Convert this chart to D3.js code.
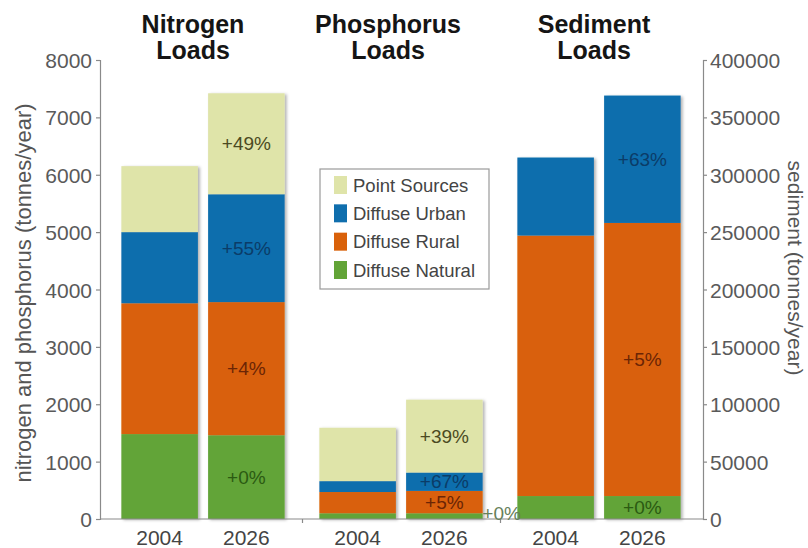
<!DOCTYPE html>
<html>
<head>
<meta charset="utf-8">
<script src="https://cdn.jsdelivr.net/npm/d3@7"></script>
<style>
  html, body { margin: 0; padding: 0; background: #fff; }
  svg { display: block; font-family: "Liberation Sans", Arial, Helvetica, sans-serif; }
</style>
</head>
<body>
<svg id="chart" width="808" height="548"></svg>
<script>
// Load groups and the two scenario years
const groups = ["Nitrogen", "Phosphorus", "Sediment"];
const titleLines = [["Nitrogen", "Loads"], ["Phosphorus", "Loads"], ["Sediment", "Loads"]];
const years = ["2004", "2026"];
const sources = ["Point Sources", "Diffuse Urban", "Diffuse Rural", "Diffuse Natural"];

// Loads per bar, ordered N2004, N2026, P2004, P2026, S2004, S2026
// (nitrogen & phosphorus in tonnes/year on the left axis, sediment on the right axis)
const pointSources   = [1150, 1760, 930, 1270, 0, 0];
const diffuseUrban   = [1240, 1880, 190, 320, 68000, 111000];
const diffuseRural   = [2280, 2320, 370, 390, 227000, 238000];
const diffuseNatural = [1480, 1460, 100, 100, 20000, 20000];

// Change from 2004 to 2026, per group
const pointChange   = ["+49%", "+39%", ""];
const urbanChange   = ["+55%", "+67%", "+63%"];
const ruralChange   = ["+4%", "+5%", "+5%"];
const naturalChange = ["+0%", "+0%", "+0%"];

const leftTicks  = [0, 1000, 2000, 3000, 4000, 5000, 6000, 7000, 8000];
const rightTicks = [0, 50000, 100000, 150000, 200000, 250000, 300000, 350000, 400000];

const colors = {
  "Point Sources": "#dfe4a9",
  "Diffuse Urban": "#0f6ead",
  "Diffuse Rural": "#d9610a",
  "Diffuse Natural": "#62a437"
};
const labelColors = {
  "Point Sources": "#4b4a22",
  "Diffuse Urban": "#0b3c68",
  "Diffuse Rural": "#6b2505",
  "Diffuse Natural": "#2b5a12"
};

const seriesBySource = {
  "Point Sources": pointSources,
  "Diffuse Urban": diffuseUrban,
  "Diffuse Rural": diffuseRural,
  "Diffuse Natural": diffuseNatural
};
const changeBySource = {
  "Point Sources": pointChange,
  "Diffuse Urban": urbanChange,
  "Diffuse Rural": ruralChange,
  "Diffuse Natural": naturalChange
};

// Build one row per bar
const rows = [];
groups.forEach((g, gi) => {
  years.forEach((yr, yi) => {
    const i = gi * 2 + yi;
    const r = { group: g, year: yr, gi: gi };
    sources.forEach(s => { r[s] = seriesBySource[s][i]; });
    rows.push(r);
  });
});

const stackOrder = ["Diffuse Natural", "Diffuse Rural", "Diffuse Urban", "Point Sources"];
const stacked = d3.stack().keys(stackOrder)(rows);

const svg = d3.select("#chart");
const font = "'Liberation Sans', Arial, Helvetica, sans-serif";

const yL = d3.scaleLinear().domain([0, 8000]).range([519, 60]);
const yR = d3.scaleLinear().domain([0, 400000]).range([519, 60]);
const yFor = g => (g === "Sediment" ? yR : yL);

const x0 = d3.scaleBand().domain(groups).range([104, 698]);
const x1 = d3.scaleBand().domain(years).range([0, x0.bandwidth()])
  .paddingInner(10 / 85).paddingOuter(0.2);

// Soft shadow under the bars
const defs = svg.append("defs");
const f = defs.append("filter").attr("id", "shadow")
  .attr("x", "-10%").attr("y", "-10%").attr("width", "130%").attr("height", "130%");
f.append("feDropShadow").attr("dx", 2).attr("dy", 1).attr("stdDeviation", 1.5)
  .attr("flood-color", "#000").attr("flood-opacity", 0.3);

// Stacked bars
const barG = svg.append("g").attr("filter", "url(#shadow)");
stacked.forEach(layer => {
  barG.append("g").attr("fill", colors[layer.key])
    .selectAll("rect").data(layer).join("rect")
    .attr("x", d => x0(d.data.group) + x1(d.data.year))
    .attr("width", x1.bandwidth())
    .attr("y", d => yFor(d.data.group)(d[1]))
    .attr("height", d => yFor(d.data.group)(d[0]) - yFor(d.data.group)(d[1]));
});

// Axes
const axisColor = "#8a8a8a";
const tickFont = 21;

const leftAxis = svg.append("g").attr("transform", "translate(100,0)")
  .call(d3.axisLeft(yL).tickValues(leftTicks).tickSize(4).tickPadding(4).tickFormat(d3.format("d")));
const rightAxis = svg.append("g").attr("transform", "translate(703,0)")
  .call(d3.axisRight(yR).tickValues(rightTicks).tickSize(4).tickPadding(3).tickFormat(d3.format("d")));
const bottomAxis = svg.append("g").attr("transform", "translate(0,519)")
  .call(d3.axisBottom(d3.scaleLinear().domain([100, 703]).range([100, 703]))
    .tickValues([x0("Phosphorus"), x0("Sediment")]).tickSize(4).tickFormat(""));

[leftAxis, rightAxis, bottomAxis].forEach(a => {
  a.select(".domain").attr("stroke", axisColor).attr("stroke-width", 1.2);
  a.selectAll(".tick line").attr("stroke", axisColor).attr("stroke-width", 1.2);
  a.selectAll(".tick text").attr("fill", "#5a5a5a").attr("font-size", tickFont)
    .attr("font-family", font).attr("dy", "0.36em");
});
bottomAxis.select(".domain").attr("d", "M100,0H703");

// Year labels under each bar
svg.append("g").selectAll("text").data(rows).join("text")
  .attr("x", d => x0(d.group) + x1(d.year) + x1.bandwidth() / 2)
  .attr("y", 545)
  .attr("text-anchor", "middle")
  .attr("font-size", tickFont).attr("fill", "#444").attr("font-family", font)
  .text(d => d.year);

// Group titles
const titleOffset = { "Nitrogen": -10, "Phosphorus": -13, "Sediment": -5 };
groups.forEach((g, gi) => {
  const tx = x0(g) + x0.bandwidth() / 2 + titleOffset[g];
  const t = svg.append("text")
    .attr("x", tx)
    .attr("text-anchor", "middle")
    .attr("font-size", 25).attr("font-weight", "bold").attr("fill", "#151515")
    .attr("font-family", font);
  t.append("tspan").attr("x", tx).attr("y", 33).text(titleLines[gi][0]);
  t.append("tspan").attr("x", tx).attr("y", 59).text(titleLines[gi][1]);
});

// Change labels on the 2026 bars
stacked.forEach(layer => {
  layer.forEach(d => {
    if (d.data.year !== "2026") return;
    const label = changeBySource[layer.key][d.data.gi];
    if (!label) return;
    const y = yFor(d.data.group);
    const cx = x0(d.data.group) + x1(d.data.year) + x1.bandwidth() / 2;
    const cy = (y(d[0]) + y(d[1])) / 2;
    // The phosphorus natural band is too thin, so its label sits beside the bar
    const outside = d.data.group === "Phosphorus" && layer.key === "Diffuse Natural";
    svg.append("text")
      .attr("x", outside ? x0(d.data.group) + x1(d.data.year) + x1.bandwidth() + 19 : cx)
      .attr("y", outside ? cy - 3 : cy)
      .attr("dy", "0.35em")
      .attr("text-anchor", "middle")
      .attr("font-size", 19).attr("font-family", font)
      .attr("fill", outside ? "#66805a" : labelColors[layer.key])
      .text(label);
  });
});

// Axis titles
svg.append("text")
  .attr("transform", "translate(31,293) rotate(-90)")
  .attr("text-anchor", "middle")
  .attr("font-size", 22).attr("fill", "#555").attr("font-family", font)
  .text("nitrogen and phosphorus (tonnes/year)");
svg.append("text")
  .attr("transform", "translate(788,268) rotate(90)")
  .attr("text-anchor", "middle")
  .attr("font-size", 21).attr("fill", "#555").attr("font-family", font)
  .text("sediment (tonnes/year)");

// Legend
const legend = svg.append("g").attr("transform", "translate(320,169)");
legend.append("rect").attr("width", 169).attr("height", 120)
  .attr("fill", "#fff").attr("stroke", "#9a9a9a").attr("stroke-width", 1.2);
const rowY = d3.scalePoint().domain(sources).range([16, 101]);
sources.forEach(s => {
  legend.append("rect").attr("x", 14).attr("y", rowY(s) - 9)
    .attr("width", 13).attr("height", 18).attr("fill", colors[s]);
  legend.append("text").attr("x", 33).attr("y", rowY(s)).attr("dy", "0.36em")
    .attr("font-size", 18.5).attr("fill", "#444").attr("font-family", font)
    .text(s);
});
</script>
</body>
</html>
